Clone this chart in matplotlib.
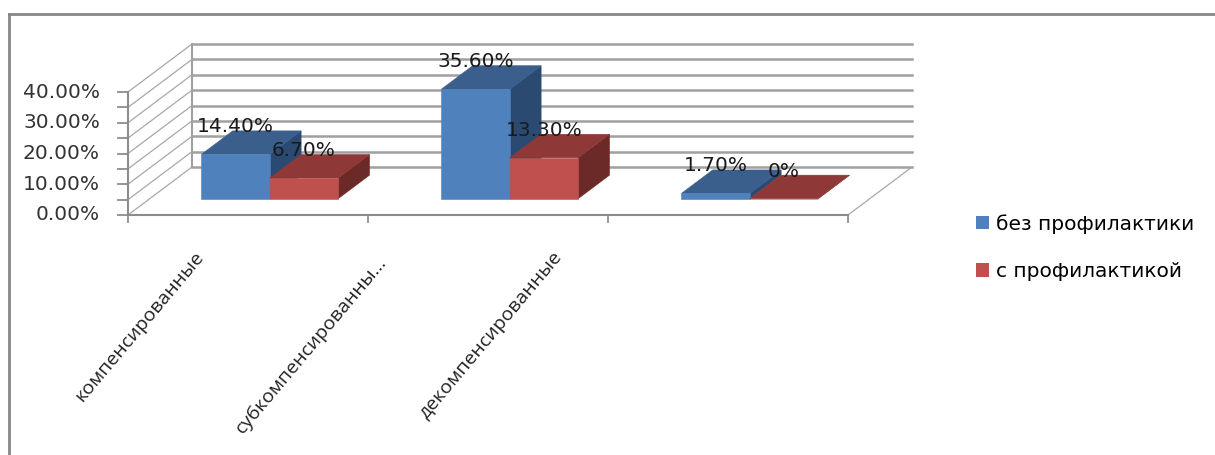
import matplotlib
matplotlib.use('Agg')
import matplotlib.pyplot as plt
from matplotlib.patches import Polygon, Patch
from matplotlib.lines import Line2D

# данные
categories = ['компенсированные', 'субкомпенсированны...', 'декомпенсированные']
series_names = ['без профилактики', 'с профилактикой']
bez_prof = [14.4, 35.6, 1.7]
s_prof = [6.7, 13.3, 0.0]
y_ticks = [0, 10, 20, 30, 40]

# цвета граней: перед, верх, бок
colors = [('#4f81bd', '#3a5f8d', '#2b4a72'),
          ('#c0504d', '#8e3937', '#6b2927')]

# псевдо-3D: сдвиг в глубину (в единицах осей)
DX = 64 / 240
DY = 48 / 3.075
Z0, Z1 = 0.34, 0.83
BAR_W = 0.285
Y_MAX = 40


def proj(x, y, z):
    return x + z * DX, y + z * DY


def fmt(v):
    return '0%' if v == 0 else f'{v:.2f}%'


def draw_bar(ax, x0, x1, h, cols):
    front = [proj(x0, 0, Z0), proj(x1, 0, Z0), proj(x1, h, Z0), proj(x0, h, Z0)]
    top = [proj(x0, h, Z0), proj(x1, h, Z0), proj(x1, h, Z1), proj(x0, h, Z1)]
    side = [proj(x1, 0, Z0), proj(x1, 0, Z1), proj(x1, h, Z1), proj(x1, h, Z0)]
    for pts, c in ((side, cols[2]), (top, cols[1]), (front, cols[0])):
        ax.add_patch(Polygon(pts, closed=True, facecolor=c, edgecolor=c, lw=0.4, zorder=3))


fig = plt.figure(figsize=(12.15, 4.55), dpi=100)
ax = fig.add_axes([0, 0, 1, 1])
ax.set_xlim(-128 / 240, (1215 - 128) / 240)
ax.set_ylim((215 - 455) / 3.075, 215 / 3.075)
ax.axis('off')

# рамка
fig.add_artist(Line2D([9 / 1215, 1], [1 - 14 / 455] * 2, color='#878787', lw=2))
fig.add_artist(Line2D([9 / 1215] * 2, [0, 1 - 14 / 455], color='#878787', lw=2))

n = len(categories)
grid_c = '#a0a0a0'
for v in range(0, Y_MAX + 1, 5):
    # задняя стенка
    bx0, by = proj(0, v, 1)
    bx1, _ = proj(n, v, 1)
    ax.plot([bx0, bx1], [by, by], color=grid_c, lw=1.8, zorder=1)
    # боковая стенка
    fx, fy = proj(0, v, 0)
    ax.plot([fx, bx0], [fy, by], color='#a8a8a8', lw=0.9, zorder=1)
    # деления оси
    ax.plot([-10 / 240, 0], [v, v], color='#8c8c8c', lw=1.3, zorder=2)

bx, by0 = proj(0, 0, 1)
_, by1 = proj(0, Y_MAX, 1)
ax.plot([bx, bx], [by0, by1], color=grid_c, lw=1.5, zorder=1)
rx, ry = proj(n, 0, 1)
ax.plot([n, rx], [0, ry], color='#a8a8a8', lw=0.9, zorder=1)

# передние оси
ax.plot([0, 0], [0, Y_MAX], color='#8c8c8c', lw=1.5, zorder=2)
ax.plot([0, n], [0, 0], color='#8c8c8c', lw=1.5, zorder=2)
for i in range(n + 1):
    ax.plot([i, i], [0, -7 / 3.075], color='#8c8c8c', lw=1.3, zorder=2)

for v in y_ticks:
    ax.text(-28 / 240, v, f'{v:.2f}%', ha='right', va='center',
            fontsize=14.5, color='#333333', family='DejaVu Sans')

# столбцы
for i in range(n):
    xc = i + 0.5
    for j, vals in enumerate((bez_prof, s_prof)):
        x0 = xc - BAR_W + j * BAR_W
        draw_bar(ax, x0, x0 + BAR_W, vals[i], colors[j])
        lx, _ = proj(x0 + BAR_W / 2, 0, Z0)
        _, ly = proj(0, vals[i], Z1)
        ax.text(lx, ly + 4 / 3.075, fmt(vals[i]), ha='center', va='center',
                fontsize=14.5, color='#1a1a1a', zorder=5)

# подписи категорий
label_anchor = [(194, 248), (376, 253), (552, 248)]
for name, (px, py) in zip(categories, label_anchor):
    ax.text((px - 128) / 240, (215 - py) / 3.075, name, rotation=50,
            rotation_mode='anchor', ha='right', va='top',
            fontsize=14, color='#222222', family='Open Sans')

handles = [Patch(facecolor=c[0], edgecolor='none') for c in colors]
fig.legend(handles, series_names, loc='upper left',
           bbox_to_anchor=(966 / 1215, 1 - 204 / 455), frameon=False,
           borderpad=0, handlelength=0.65, handleheight=0.65,
           handletextpad=0.35, labelspacing=1.4,
           prop={'size': 14.5, 'family': 'DejaVu Sans'})

fig.savefig('out.png', dpi=100)
